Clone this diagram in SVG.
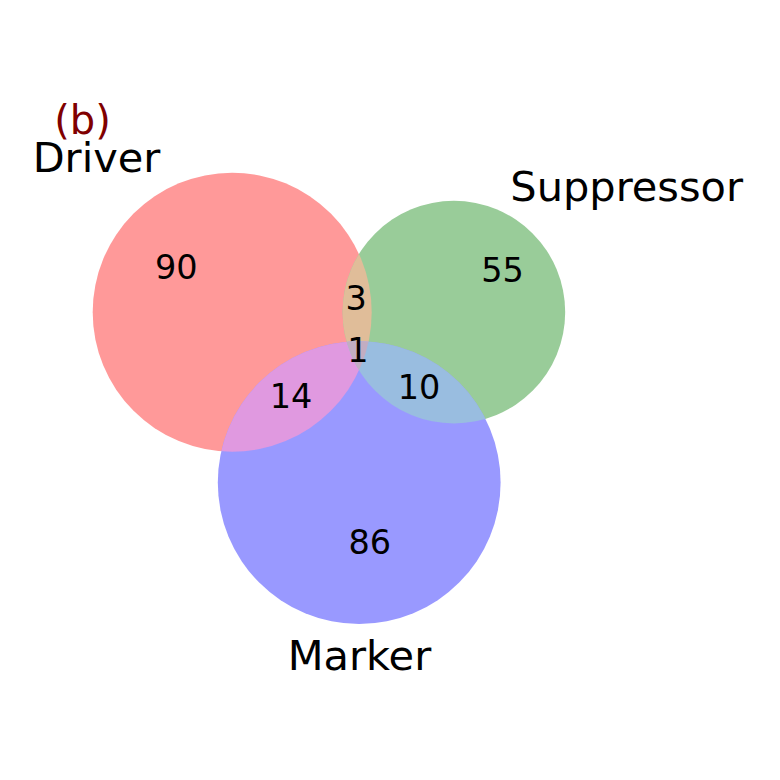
<svg xmlns="http://www.w3.org/2000/svg" width="780" height="780" viewBox="0 0 780 780">
  <style>
    text { font-family: "DejaVu Sans", "Liberation Sans", sans-serif; fill: #000000; text-anchor: middle; }
    .set { font-size: 41.5px; }
    .num { font-size: 33.5px; }
    .title { font-size: 40px; fill: #800000; }
  </style>
  <defs>
    <clipPath id="clipDriver"><circle cx="232.2" cy="312.2" r="139.5"/></clipPath>
    <clipPath id="clipSuppressor"><circle cx="453.9" cy="312.1" r="111.3"/></clipPath>
  </defs>
  <rect x="0" y="0" width="780" height="780" fill="#ffffff"/>

  <g id="driver">
    <circle cx="232.2" cy="312.2" r="139.5" fill="#ff9999"/>
  </g>
  <g id="suppressor">
    <circle cx="453.9" cy="312.1" r="111.3" fill="#99cc99"/>
  </g>
  <g id="marker">
    <circle cx="359.2" cy="482.6" r="141.4" fill="#9999ff"/>
  </g>

  <g id="intersections">
    <circle id="driver-suppressor" cx="453.9" cy="312.1" r="111.3" fill="#e0bd99" clip-path="url(#clipDriver)"/>
    <circle id="driver-marker" cx="359.2" cy="482.6" r="141.4" fill="#e099e0" clip-path="url(#clipDriver)"/>
    <circle id="suppressor-marker" cx="359.2" cy="482.6" r="141.4" fill="#99bde0" clip-path="url(#clipSuppressor)"/>
    <g clip-path="url(#clipDriver)">
      <circle id="all-three" cx="359.2" cy="482.6" r="141.4" fill="#c2adc2" clip-path="url(#clipSuppressor)"/>
    </g>
  </g>

  <g id="connectors"/>

  <g id="labels">
    <text class="title" x="82.5" y="134">(b)</text>
    <text class="set" x="96.5" y="172">Driver</text>
    <text class="set" x="626.7" y="201">Suppressor</text>
    <text class="set" x="359.5" y="670">Marker</text>
  </g>

  <g id="counts">
    <text class="num" x="176.2" y="279">90</text>
    <text class="num" x="502.5" y="281.5">55</text>
    <text class="num" x="356.2" y="310">3</text>
    <text class="num" x="357.8" y="361.5">1</text>
    <text class="num" x="291" y="408">14</text>
    <text class="num" x="419" y="399.3">10</text>
    <text class="num" x="369.8" y="553.8">86</text>
  </g>
</svg>
